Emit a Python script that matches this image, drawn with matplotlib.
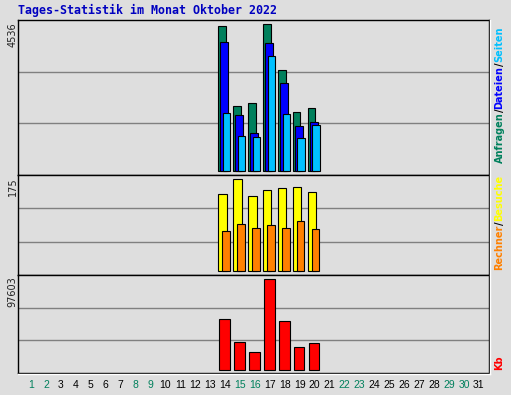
import matplotlib
matplotlib.use('Agg')
import matplotlib.pyplot as plt

# Daten Oktober 2022 (nur Tage 14-20 mit Zugriffen)
tage = [14, 15, 16, 17, 18, 19, 20]
anfragen = [4474, 2010, 2093, 4536, 3113, 1815, 1938]
dateien = [3980, 1731, 1175, 3948, 2721, 1391, 1515]
seiten = [1803, 1073, 1042, 3546, 1762, 1011, 1413]
besuche = [146, 175, 143, 154, 158, 160, 150]
rechner = [76, 89, 83, 87, 83, 95, 80]
kbytes = [54850, 30650, 19600, 97603, 52700, 24950, 29600]

alle_tage = list(range(1, 32))
wochenende = [1, 2, 8, 9, 15, 16, 22, 23, 29, 30]

W, H = 511, 395
bg = '#dedede'
c_anf, c_dat, c_sei = '#00805c', '#0000ff', '#00c0ff'
c_bes, c_rec, c_kb = '#ffff00', '#ff8000', '#ff0000'

fig = plt.figure(figsize=(W / 100, H / 100), dpi=100, facecolor=bg)

left, right = 18, 489


def make_ax(top, bottom):
    ax = fig.add_axes([left / W, (H - bottom) / H, (right - left) / W, (bottom - top) / H])
    ax.set_facecolor(bg)
    ax.set_xlim(0.13, 31.68)
    ax.set_xticks([])
    ax.set_yticks([])
    for s in ax.spines.values():
        s.set_linewidth(1.0)
        s.set_color('black')
    for f in (1 / 3, 2 / 3):
        ax.plot([0, 1], [f, f], transform=ax.transAxes, color='#808080', lw=1.0, zorder=0)
    return ax


ax1 = make_ax(20, 175)
ax2 = make_ax(175, 275)
ax3 = make_ax(275, 373)

ax1.set_ylim(-124, 4669)
ax2.set_ylim(-7.6, 183.2)
ax3.set_ylim(-2673, 102093)

kw = dict(edgecolor='black', linewidth=0.8, align='edge', zorder=3)
ax1.bar([t - 0.45 for t in tage], anfragen, width=0.5, color=c_anf, **kw)
ax1.bar([t - 0.33 for t in tage], dateien, width=0.54, color=c_dat, **kw)
ax1.bar([t - 0.15 for t in tage], seiten, width=0.49, color=c_sei, **kw)

ax2.bar([t - 0.45 for t in tage], besuche, width=0.56, color=c_bes, **kw)
ax2.bar([t - 0.18 for t in tage], rechner, width=0.5, color=c_rec, **kw)

ax3.bar([t - 0.4 for t in tage], kbytes, width=0.72, color=c_kb, **kw)

# weisse Kante unten/rechts
fig.add_artist(plt.Line2D([left / W, (right + 1) / W], [(H - 374) / H] * 2, color='white', lw=1.0))
fig.add_artist(plt.Line2D([(right + 1) / W] * 2, [(H - 374) / H, (H - 20) / H], color='white', lw=1.0))

# Titel
fig.text(18 / W, (H - 10) / H, 'Tages-Statistik im Monat Oktober 2022', color='#0000c0',
         fontsize=8.4, fontweight='bold', family='DejaVu Sans Mono', ha='left', va='center')

# Maximalwerte links
for txt, ytop in [('4536', 22), ('175', 177), ('97603', 276)]:
    fig.text(12.5 / W, (H - ytop) / H, txt, rotation=90, fontsize=7, color='#202020',
             ha='center', va='top')

# Tageszahlen
for d in alle_tage:
    xpx = 31 + (d - 1) * 14.93
    fig.text(xpx / W, (H - 384.5) / H, str(d), fontsize=7.5, ha='center', va='center',
             color=c_anf if d in wochenende else 'black',
             family=['Liberation Sans Narrow', 'Liberation Sans'])

# Legenden rechts, von unten nach oben
renderer = fig.canvas.get_renderer()


def stack_label(ybottom, teile):
    y = H - ybottom
    for s, c in teile:
        t = fig.text(499.5 / W, y / H, s, rotation=90, color=c, fontsize=7, fontweight='bold',
                     ha='center', va='bottom')
        bb = t.get_window_extent(renderer)
        y += bb.height


stack_label(163, [('Anfragen', c_anf), ('/', 'black'), ('Dateien', c_dat), ('/', 'black'), ('Seiten', c_sei)])
stack_label(270, [('Rechner', c_rec), ('/', 'black'), ('Besuche', c_bes)])
stack_label(370, [('Kb', c_kb)])

fig.savefig('out.png', dpi=100, facecolor=bg)
